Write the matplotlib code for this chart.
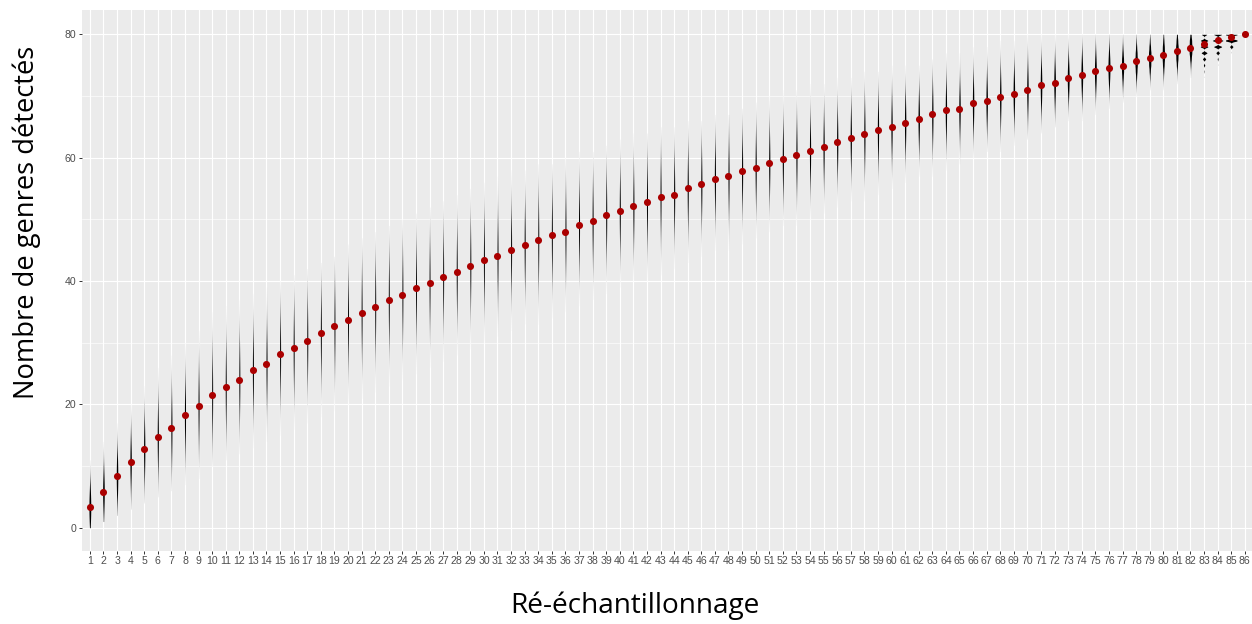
import numpy as np
import matplotlib
matplotlib.use("Agg")
import matplotlib.pyplot as plt

# categories 1..86 (re-sampling steps)
categories = [str(i) for i in range(1, 87)]

# mean number of genera (red points)
means = [3.3, 5.8, 8.3, 10.7, 12.7, 14.7, 16.1, 18.2, 19.7, 21.5,
         22.8, 24.0, 25.5, 26.5, 28.1, 29.1, 30.3, 31.5, 32.7, 33.7,
         34.8, 35.8, 36.9, 37.8, 38.8, 39.7, 40.7, 41.4, 42.5, 43.4,
         44.0, 45.1, 45.8, 46.6, 47.4, 48.0, 49.0, 49.7, 50.7, 51.4,
         52.1, 52.8, 53.7, 54.0, 55.0, 55.7, 56.6, 57.0, 57.8, 58.4,
         59.1, 59.8, 60.4, 61.0, 61.7, 62.5, 63.2, 63.8, 64.5, 65.0,
         65.6, 66.2, 67.0, 67.7, 67.9, 68.8, 69.2, 69.8, 70.4, 71.0,
         71.7, 72.1, 72.9, 73.4, 74.0, 74.6, 74.9, 75.6, 76.2, 76.7,
         77.3, 77.8, 78.4, 79.0, 79.5, 80.0]

# violin extent (min / max of the resamples)
lows = [0, 1, 2, 3, 4, 5, 6, 7, 8, 10,
        11, 12, 13, 14, 15, 16, 17, 18, 19, 20,
        21, 22, 23, 24, 25, 26, 27, 28, 29, 30,
        31, 32, 33, 33, 34, 35, 36, 37, 38, 39,
        40, 40, 41, 42, 43, 44, 45, 45, 46, 47,
        48, 49, 49, 50, 51, 52, 53, 53, 54, 55,
        56, 57, 57, 58, 59, 60, 61, 61, 62, 63,
        64, 65, 66, 66, 67, 68, 69, 70, 71, 71,
        72, 73, 73, 75, 77, 80]
highs = [11, 14, 17, 20, 23, 26, 28, 30, 32, 35,
         36, 37, 38, 39, 40, 41, 42, 43, 44, 46,
         47, 48, 49, 50, 51, 52, 53, 54, 55, 56,
         57, 58, 58, 59, 59, 60, 61, 61, 62, 63,
         64, 64, 65, 65, 66, 66, 67, 67, 68, 69,
         70, 71, 71, 72, 72, 73, 73, 74, 74, 75,
         75, 75, 76, 77, 77, 78, 78, 79, 79, 80,
         80, 80, 80, 80, 80, 80, 80, 80, 80, 80,
         80, 80, 80, 80, 80, 80]

fig = plt.figure(figsize=(12.52, 6.24), dpi=100)
ax = fig.add_axes([81.7 / 1252, 1 - 551 / 624, 1171.3 / 1252, 541 / 624])
ax.set_facecolor("#EBEBEB")
for s in ax.spines.values():
    s.set_visible(False)

xs = np.arange(1, len(categories) + 1)

# violins (area-scaled, very thin)
k = 0.42
for x, m, lo, hi in zip(xs, means, lows, highs):
    if hi <= lo:
        continue
    sd = max(m - lo, hi - m) / 3.0
    if hi - m < 2:
        bw = 0.15  # nearly saturated -> discrete counts show through
    else:
        bw = max(0.25 * sd, 0.45)
    yy = np.linspace(lo, hi, 600)
    ints = np.arange(np.ceil(lo), np.floor(hi) + 1)
    w = np.exp(-0.5 * ((ints - m) / sd) ** 2)
    w = w / w.sum()
    dens = (w[None, :] * np.exp(-0.5 * ((yy[:, None] - ints[None, :]) / bw) ** 2)
            / (bw * np.sqrt(2 * np.pi))).sum(axis=1)
    hw = np.minimum(k * dens, 0.42)
    ax.fill_betweenx(yy, x - hw, x + hw, color="black", lw=0, zorder=3)

ax.scatter(xs, means, s=26, color="#AA0000", zorder=4, linewidths=0)

ax.set_xlim(0.4, len(categories) + 0.6)
ax.set_ylim(-3.78, 83.94)
ax.set_xticks(xs)
ax.set_xticklabels(categories)
ax.set_yticks([0, 20, 40, 60, 80])
ax.set_yticks([10, 30, 50, 70], minor=True)

ax.grid(True, which="major", color="white", lw=0.85, zorder=0)
ax.grid(True, which="minor", axis="y", color="white", lw=0.45, zorder=0)
ax.set_axisbelow(True)

ax.tick_params(which="major", length=2.4, width=0.7, color="#333333",
               labelcolor="#4D4D4D", labelsize=7.6, pad=1.5)
ax.tick_params(which="minor", length=0)
for lab in ax.get_xticklabels() + ax.get_yticklabels():
    lab.set_family("Liberation Sans")

fig.text(27 / 1252, 1 - 222 / 624, "Nombre de genres détectés", rotation=90,
         ha="center", va="center", fontsize=19.7, family="Open Sans")
fig.text(635 / 1252, 1 - 606 / 624, "Ré-échantillonnage",
         ha="center", va="center", fontsize=20.2, family="Open Sans")

fig.savefig("out.png", dpi=100)
